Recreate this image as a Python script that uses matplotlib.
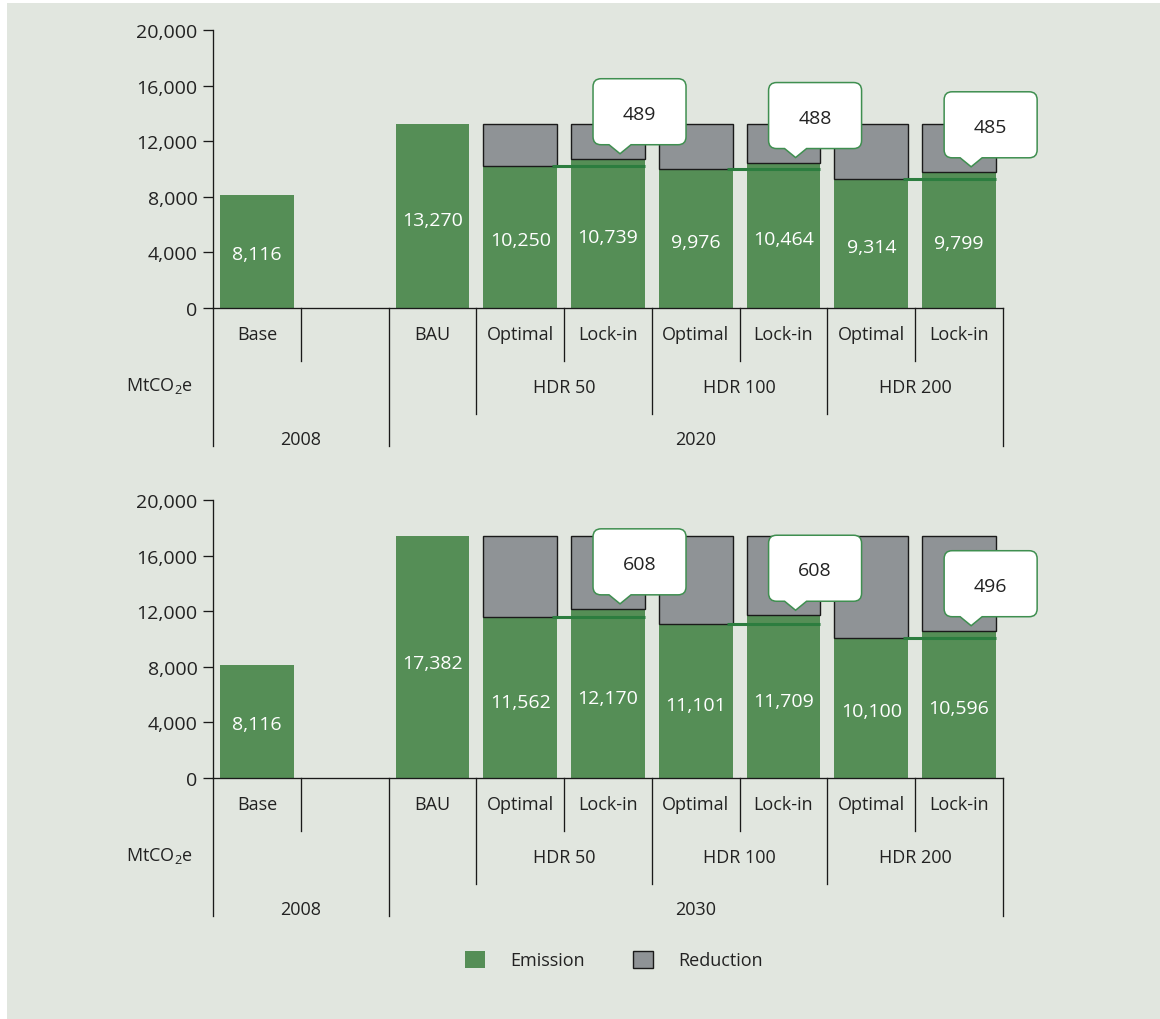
import matplotlib.pyplot as plt
import matplotlib.transforms as mtransforms
from matplotlib.patches import Patch, PathPatch, Rectangle
from matplotlib.path import Path

plt.rcParams['font.family'] = ['Open Sans', 'DejaVu Sans']
plt.rcParams['mathtext.default'] = 'regular'

# data (MtCO2e)
categories = ['Base', '', 'BAU', 'Optimal', 'Lock-in', 'Optimal', 'Lock-in', 'Optimal', 'Lock-in']
groups = ['HDR 50', 'HDR 100', 'HDR 200']
base_year = '2008'
years = ['2020', '2030']
base_2008 = 8116
bau = [13270, 17382]
optimal = [[10250, 9976, 9314], [11562, 11101, 10100]]
lockin = [[10739, 10464, 9799], [12170, 11709, 10596]]
y_ticks = [0, 4000, 8000, 12000, 16000, 20000]

GREEN = '#558e56'
GREY = '#8f9396'
LINE_GREEN = '#2c7d3f'
CALLOUT_EDGE = '#3f8f50'
BG = '#e1e6df'
TXT = '#222222'
FS = 13
FS_NUM = 14

fig = plt.figure(figsize=(11.6, 10.2), dpi=100)
fig.set_facecolor('white')
fig.patches.append(Rectangle((7 / 1160, 0), 1, 1016 / 1020, transform=fig.transFigure,
                             facecolor=BG, edgecolor='none', zorder=-10))

AX_H = 278.0  # axes height in px, used for the label rows under the axis


def callout(ax, x, y, label):
    # shape in px around a tip 5px above (x, y)
    L, R, B, T, r, hw = -27, 66, 14, 80, 8, 11
    pts = [(L + r, B), (-hw, B), (0, 5), (hw, B), (R - r, B), (R, B), (R, B + r),
           (R, T - r), (R, T), (R - r, T), (L + r, T), (L, T), (L, T - r),
           (L, B + r), (L, B), (L + r, B), (L + r, B)]
    codes = [Path.MOVETO, Path.LINETO, Path.LINETO, Path.LINETO, Path.LINETO,
             Path.CURVE3, Path.CURVE3, Path.LINETO, Path.CURVE3, Path.CURVE3,
             Path.LINETO, Path.CURVE3, Path.CURVE3, Path.LINETO, Path.CURVE3,
             Path.CURVE3, Path.CLOSEPOLY]
    verts = [(px / 100, py / 100) for px, py in pts]
    trans = fig.dpi_scale_trans + mtransforms.ScaledTranslation(x, y, ax.transData)
    ax.add_patch(PathPatch(Path(verts, codes), facecolor='white', edgecolor=CALLOUT_EDGE,
                           lw=1.1, transform=trans, clip_on=False, zorder=5))
    ax.text((L + R) / 200, (B + T - 4) / 200, label, transform=trans, ha='center',
            va='center', fontsize=FS_NUM, color=TXT, zorder=6)


def panel(ax, year, bau_v, opt_v, lock_v):
    x = list(range(len(categories)))
    emis = [base_2008, 0, bau_v]
    for o, l in zip(opt_v, lock_v):
        emis += [o, l]
    ax.bar(x, emis, width=0.84, color=GREEN, zorder=2)
    scen_x = x[3:]
    scen_e = emis[3:]
    ax.bar(scen_x, [bau_v - e for e in scen_e], bottom=scen_e, width=0.84, color=GREY,
           edgecolor='#1a1a1a', lw=1.0, zorder=2)
    for xi, e in zip(x, emis):
        if e:
            ax.text(xi, e * 0.475, f'{e:,}', ha='center', va='center', color='white',
                    fontsize=FS_NUM, zorder=3)

    for g, (o, l) in enumerate(zip(opt_v, lock_v)):
        xo = 3 + 2 * g
        ax.plot([xo + 0.36, xo + 1.42], [o, o], color=LINE_GREEN, lw=2.2,
                solid_capstyle='butt', zorder=4)
        callout(ax, xo + 1 + 0.137, l, f'{l - o}')

    ax.set_xlim(-0.5, 8.5)
    ax.set_ylim(0, 20000)
    ax.set_yticks(y_ticks)
    ax.set_yticklabels([f'{v:,}' for v in y_ticks])
    ax.set_xticks([])
    ax.set_facecolor('none')
    for s in ['top', 'right']:
        ax.spines[s].set_visible(False)
    for s in ['left', 'bottom']:
        ax.spines[s].set_linewidth(0.95)
        ax.spines[s].set_color('#1a1a1a')
    ax.tick_params(axis='y', length=7.2, width=0.95, color='#1a1a1a', pad=4,
                   labelsize=FS_NUM, labelcolor=TXT)

    bt = mtransforms.blended_transform_factory(ax.transData, ax.transAxes)
    seps = [(-0.5, 138), (0.5, 53), (1.5, 138), (2.5, 106), (3.5, 53), (4.5, 106),
            (5.5, 53), (6.5, 106), (7.5, 53), (8.5, 138)]
    for sx, depth in seps:
        ax.plot([sx, sx], [0, -depth / AX_H], transform=bt, color='#1a1a1a', lw=0.95,
                clip_on=False)
    for xi, c in zip(x, categories):
        ax.text(xi, -26 / AX_H, c, transform=bt, ha='center', va='center', fontsize=FS,
                color=TXT)
    for g, name in enumerate(groups):
        ax.text(3.5 + 2 * g, -79 / AX_H, name, transform=bt, ha='center', va='center',
                fontsize=FS, color=TXT)
    ax.text(0.5, -131 / AX_H, base_year, transform=bt, ha='center', va='center',
            fontsize=FS, color=TXT)
    ax.text(5.0, -131 / AX_H, year, transform=bt, ha='center', va='center',
            fontsize=FS, color=TXT)
    ax.text(-20 / 790, -77 / AX_H, 'MtCO$_2$e', transform=ax.transAxes, ha='right',
            va='center', fontsize=FS, color=TXT)


left, width = 213 / 1160, 790 / 1160
ax1 = fig.add_axes([left, (1020 - 309) / 1020, width, AX_H / 1020])
ax2 = fig.add_axes([left, (1020 - 779) / 1020, width, AX_H / 1020])
for ax, i in [(ax1, 0), (ax2, 1)]:
    panel(ax, years[i], bau[i], optimal[i], lockin[i])

handles = [Patch(facecolor=GREEN, edgecolor='none', label='Emission'),
           Patch(facecolor=GREY, edgecolor='#1a1a1a', lw=1.0, label='Reduction')]
fig.legend(handles=handles, loc='center', bbox_to_anchor=(614 / 1160, 1 - 961 / 1020),
           ncol=2, frameon=False, fontsize=FS, handlelength=1.1, handleheight=1.1,
           handletextpad=1.4, columnspacing=2.7, labelcolor=TXT)

fig.savefig('out.png', dpi=100)
